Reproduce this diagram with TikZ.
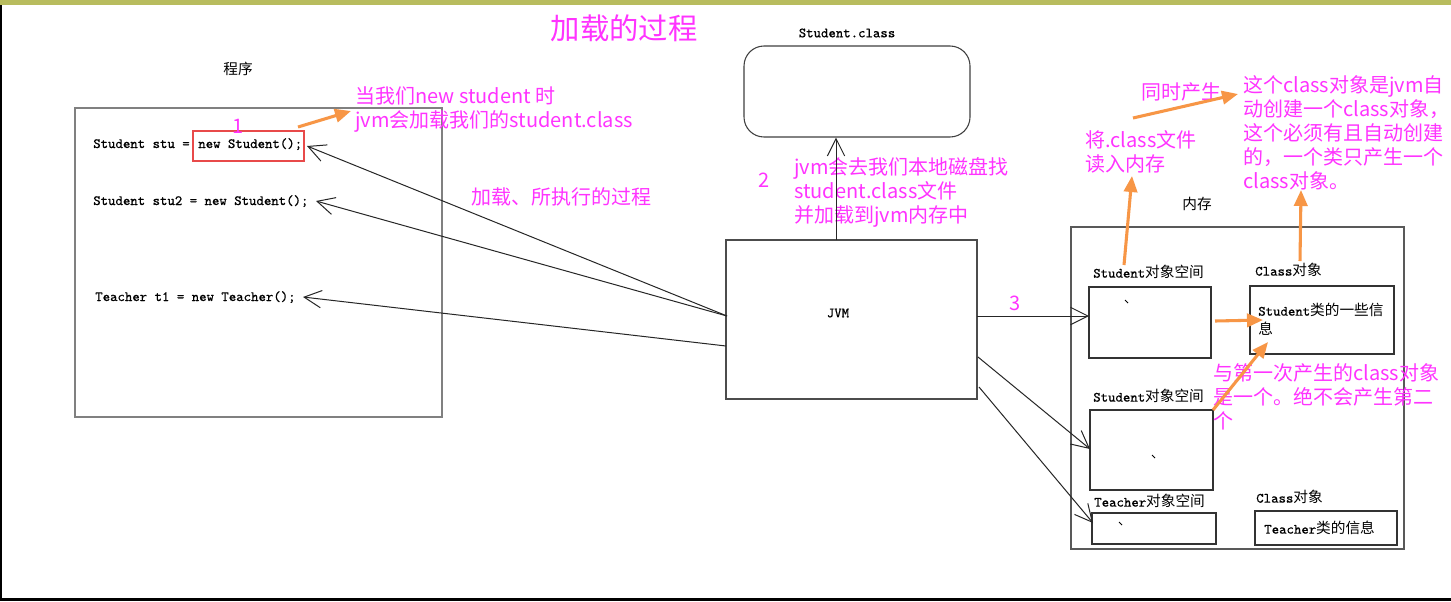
\documentclass[tikz,border=0pt]{standalone}
\usepackage{fontspec}
\newfontfamily\cjk{Noto Sans CJK SC}
\newfontfamily\codefam{Latin Modern Mono}[FakeBold=0.5]
\usetikzlibrary{arrows.meta,fit}
\definecolor{magc}{HTML}{FF33FF}
\definecolor{orng}{HTML}{F79646}
\definecolor{olivebar}{HTML}{B8BC5E}
\definecolor{redbox}{HTML}{E84A4A}
\newcommand\magf{\cjk\fontsize{15}{18}\selectfont}
\newcommand\titlef{\cjk\fontsize{22}{26}\selectfont}
\newcommand\codef{\codefam\fontsize{10.6}{14.25}\selectfont}
\newcommand\cjkc{\cjk\fontsize{11}{14.25}\selectfont}
\begin{document}
\begin{tikzpicture}[x=0.75pt,y=-0.75pt,
  mag/.style={text=magc, font=\magf, inner sep=0pt},
  lbl/.style={font=\cjkc, inner sep=0pt},
  code/.style={font=\codef, inner sep=0pt},
  box/.style={draw=black!80, line width=0.9pt, inner sep=0pt},
  barb/.style={draw=black!85, line width=0.75pt, -{Straight Barb[length=13pt,width=13pt]}},
  oarr/.style={draw=orng, line width=2.3pt, -{Triangle[length=12pt,width=10pt]}}]
\useasboundingbox (0,0) rectangle (1451,601);
\fill[white] (0,0) rectangle (1451,601);
\fill[olivebar] (0,0) rectangle (1451,5);
\fill[black] (0,5) rectangle (2,601);
\fill[black] (0,598) rectangle (1451,601);

% title
\node[mag, font=\titlef] (title) at (624,28) {加载的过程};

% program
\node[lbl] (proglbl) at (238,69) {程序};
\node[fit={(75,108) (442,417)}, draw=black!50, line width=1.5pt, inner sep=0pt] (prog) {};
\node[code, anchor=base west] (l1) at (93,148) {Student stu =};
\node[fit={(193,131) (304,161)}, draw=redbox, line width=0.9pt, inner sep=0pt] (l1b) {};
\node[code, anchor=base west] (l1c) at (198,148) {new Student();};
\node[code, anchor=base west] (l2) at (93,205) {Student stu2 = new Student();};
\node[code, anchor=base west] (l3) at (95,301) {Teacher t1 = new Teacher();};
\node[mag] (n1) at (238,126) {1};
\node[mag, anchor=north west, align=left] (t1) at (355,86) {当我们new student 时\\jvm会加载我们的student.class};

% student.class
\node[code] (sclbl) at (847,33) {Student.class};
\node[fit={(744,46) (970,137)}, draw=black!75, line width=0.8pt, rounded corners=15pt, inner sep=0pt] (scf) {};

% JVM
\node[fit={(726,240) (977,399)}, draw=black!70, line width=1.2pt, inner sep=0pt] (jvm) {};
\node[code] (jvmlbl) at (838,313) {JVM};
\node[mag] (n2) at (764,180) {2};
\node[mag, anchor=north west, align=left] (t2) at (794,157) {jvm会去我们本地磁盘找\\student.class文件\\并加载到jvm内存中};
\node[mag, anchor=west] (t3) at (471,197) {加载、所执行的过程};
\node[mag] (n3) at (1015,303) {3};

% memory
\node[lbl] (memlbl) at (1197,204) {内存};
\node[fit={(1071,227) (1404,549)}, draw=black!65, line width=1.1pt, inner sep=0pt] (mem) {};
\node[code, anchor=west] (ss1l) at (1093,272) {Student{\cjkc 对象空间}};
\node[fit={(1089,287) (1211,358)}, box] (ss1) {};
\node[code, anchor=west] (co1l) at (1255,270) {Class{\cjkc 对象}};
\node[fit={(1250,286) (1394,354)}, box] (co1) {};
\node[code, anchor=north west, align=left] (co1t) at (1258,303) {Student{\cjkc 类的一些信}\\{\cjkc 息}};
\node[code, anchor=west] (ss2l) at (1093,396) {Student{\cjkc 对象空间}};
\node[fit={(1090,410) (1213,490)}, box] (ss2) {};
\node[code, anchor=west] (tsl) at (1094,501) {Teacher{\cjkc 对象空间}};
\node[fit={(1092,513) (1216,544)}, box] (ts) {};
\node[code, anchor=west] (co2l) at (1256,497) {Class{\cjkc 对象}};
\node[fit={(1255,511) (1397,545)}, box] (co2) {};
\node[code, anchor=west] (co2t) at (1264,528) {Teacher{\cjkc 类的信息}};
\draw[line width=0.7pt] (1125,300) -- (1128,303);
\draw[line width=0.7pt] (1152,455) -- (1155,458);
\draw[line width=0.7pt] (1119,522) -- (1122,525);

% magenta notes right
\node[mag, anchor=west] (tsc) at (1141,92) {同时产生};
\node[mag, anchor=north west, align=left] (t4) at (1085,130) {将.class文件\\读入内存};
\node[mag, anchor=north west, align=left] (t5) at (1243,75) {这个class对象是jvm自\\动创建一个class对象，\\这个必须有且自动创建\\的，一个类只产生一个\\class对象。};
\node[mag, anchor=north west, align=left] (t6) at (1213,363) {与第一次产生的class对象\\是一个。绝不会产生第二\\个};

% black connectors
\coordinate (jL1) at (727,316);
\coordinate (jL3) at (726,346);
\coordinate (p1) at (307,146);
\coordinate (p2) at (316,201);
\coordinate (p3) at (303,297);
\draw[barb] (jL1) -- (p1);
\draw[barb] (jL1) -- (p2);
\draw[barb] (jL3) -- (p3);
\coordinate (jT) at (836,240);
\draw[barb] (jT) -- (jT |- scf.south);
\coordinate (jR1) at (977,316);
\coordinate (m1) at (1089,316);
\coordinate (jR2) at (978,357);
\coordinate (m2) at (1090,449);
\coordinate (jR3) at (979,387);
\coordinate (m3) at (1093,523);
\draw[barb] (jR1) -- (m1);
\draw[barb] (jR2) -- (m2);
\draw[barb] (jR3) -- (m3);

% orange connectors
\coordinate (o1s) at (298,127); \coordinate (o1e) at (351,111);
\coordinate (o2s) at (1133,118); \coordinate (o2e) at (1238,94);
\coordinate (o3s) at (1124,265); \coordinate (o3e) at (1132,176);
\coordinate (o4s) at (1300,261); \coordinate (o4e) at (1301,190);
\coordinate (o5s) at (1215,321); \coordinate (o5e) at (1263,320);
\coordinate (o6s) at (1213,410); \coordinate (o6e) at (1268,342);
\draw[oarr] (o1s) -- (o1e);
\draw[oarr] (o2s) -- (o2e);
\draw[oarr] (o3s) -- (o3e);
\draw[oarr] (o4s) -- (o4e);
\draw[oarr] (o5s) -- (o5e);
\draw[oarr] (o6s) -- (o6e);
\end{tikzpicture}
\end{document}
